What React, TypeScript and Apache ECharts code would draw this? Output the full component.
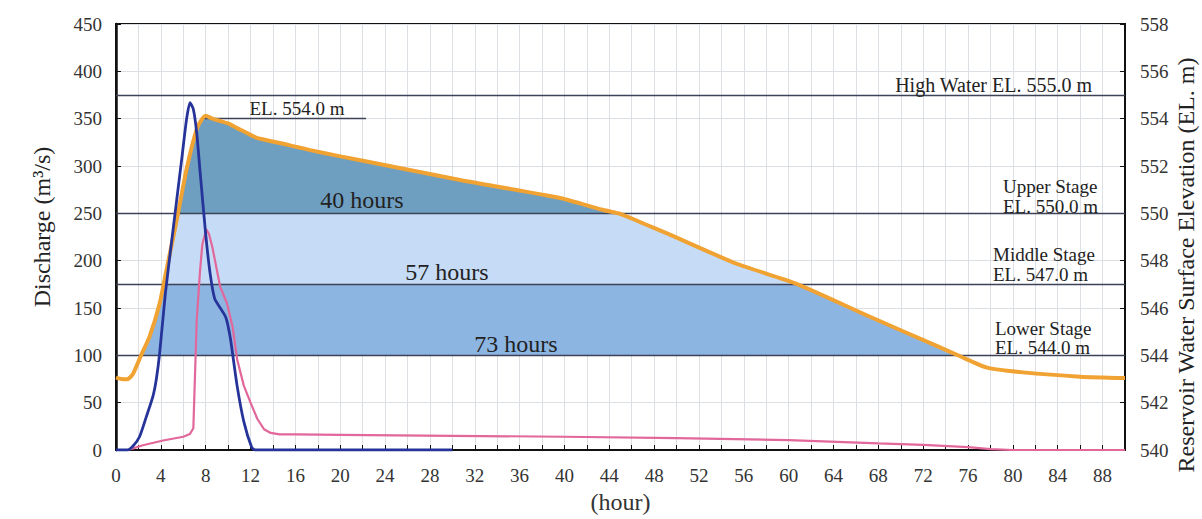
import React, { useEffect, useRef } from "react";
import * as echarts from "echarts";

// ---- data ----
const inflowHours = [0, 1.0, 1.5, 2.1, 2.7, 3.3, 3.6, 3.9, 4.4, 5.0, 5.9, 6.3, 6.6, 6.9, 7.2, 7.5, 8.0, 8.4, 8.8, 9.3, 9.8, 10.2, 10.8, 11.4, 12.1, 12.4, 30];
const inflowValues = [0, 0, 4, 14, 35, 57, 75, 103, 165, 224, 311, 350, 367, 360, 335, 294, 228, 186, 160, 150, 140, 118, 68, 30, 3, 0, 0];

const outflowHours = [1.0, 1.6, 2.4, 4.2, 6.0, 6.6, 6.9, 7.2, 7.5, 7.7, 8.05, 8.3, 8.6, 9.3, 9.9, 10.4, 10.8, 11.4, 12.0, 12.6, 13.2, 13.8, 14.6, 16, 20, 30, 40, 50, 60, 68, 72, 76, 78, 80, 90];
const outflowValues = [0, 2, 5, 10, 14, 17, 23, 137, 190, 217, 233, 228, 214, 172, 155, 130, 96, 68, 50, 33, 22, 18, 16.5, 16.5, 16, 15, 14, 12.5, 10.4, 7, 5.5, 3, 1, 0, 0];

const elevHours = [0, 0.5, 1.0, 1.5, 2.2, 3.0, 3.9, 4.5, 5.4, 6.3, 7.2, 7.7, 8.0, 8.6, 9.3, 10.0, 10.8, 11.5, 12.5, 14.7, 18, 21.8, 30.8, 39.7, 43.3, 45.1, 47.2, 49.3, 55.3, 60.6, 67.2, 73.2, 75.3, 77.7, 80.9, 86, 90];
const elevValues = [543.06, 543.0, 542.99, 543.2, 543.96, 544.8, 546.2, 547.6, 549.68, 551.88, 553.56, 554.0, 554.12, 554.0, 553.9, 553.8, 553.6, 553.44, 553.2, 552.96, 552.6, 552.24, 551.4, 550.64, 550.16, 549.96, 549.54, 549.12, 547.88, 547.04, 545.64, 544.4, 543.96, 543.48, 543.28, 543.1, 543.04];

const stageLevels = [555, 550, 547, 544];
const peakLevel = 554;
const peakLineHours = [7.6, 22.3];

const stageTexts = [
  "High Water EL. 555.0 m",
  "Upper Stage", "EL. 550.0 m",
  "Middle Stage", "EL. 547.0 m",
  "Lower Stage", "EL. 544.0 m",
];
const durationTexts = ["40 hours", "57 hours", "73 hours"];

const zip = (xs: number[], ys: number[]) => xs.map((x, i) => [x, ys[i]]);

const FONT = "'Liberation Serif', 'Times New Roman', serif";

export default function App() {
  const ref = useRef<HTMLDivElement>(null);
  useEffect(() => {
    if (!ref.current) return;
    const chart = echarts.init(ref.current, undefined, { renderer: "svg" });
    const txt = (text: string, x: number, y: number, size: number, align = "center", rotation = 0) => ({
      type: "text",
      x,
      y,
      rotation,
      z: 50,
      silent: true,
      style: { text, fill: "#222", font: `${size}px ${FONT}`, align, verticalAlign: "middle" },
    });
    const elevData = zip(elevHours, elevValues);
    chart.setOption({
      animation: false,
      backgroundColor: "#fff",
      grid: { left: 116, right: 77, top: 24, bottom: 64, show: true, borderColor: "#111", borderWidth: 2, backgroundColor: "#fff" },
      xAxis: {
        type: "value",
        min: 0,
        max: 90,
        interval: 4,
        axisLine: { lineStyle: { color: "#111", width: 2 } },
        axisTick: { inside: true, length: 5, lineStyle: { color: "#111" } },
        minorTick: { show: true, splitNumber: 2, length: 5, lineStyle: { color: "#111" } },
        splitLine: { show: true, lineStyle: { color: "#dcdfe4", width: 1 } },
        minorSplitLine: { show: true, lineStyle: { color: "#dcdfe4", width: 1 } },
        axisLabel: { showMaxLabel: false, fontFamily: FONT, fontSize: 19, color: "#333", margin: 16 },
        name: "(hour)",
        nameLocation: "middle",
        nameGap: 40,
        nameTextStyle: { fontFamily: FONT, fontSize: 24, color: "#333" },
      },
      yAxis: [
        {
          type: "value",
          min: 0,
          max: 450,
          interval: 50,
          axisLine: { show: true, lineStyle: { color: "#111", width: 2.5 } },
          axisTick: { show: true, inside: true, length: 5, lineStyle: { color: "#111" } },
          splitLine: { show: true, lineStyle: { color: "#dcdfe4", width: 1 } },
          axisLabel: { fontFamily: FONT, fontSize: 19, color: "#333", margin: 14 },
        },
        {
          type: "value",
          position: "right",
          min: 540,
          max: 558,
          interval: 2,
          axisLine: { show: true, lineStyle: { color: "#111", width: 2 } },
          axisTick: { show: true, inside: true, length: 5, lineStyle: { color: "#111" } },
          splitLine: { show: false },
          axisLabel: { fontFamily: FONT, fontSize: 19, color: "#333", margin: 15 },
        },
      ],
      visualMap: {
        show: false,
        type: "piecewise",
        seriesIndex: 0,
        dimension: 1,
        pieces: [
          { lt: 544, color: "rgba(255,255,255,0)" },
          { gte: 544, lt: 547, color: "#8db5e2" },
          { gte: 547, lt: 550, color: "#c6dcf6" },
          { gte: 550, color: "#6e9fc1" },
        ],
      },
      series: [
        {
          name: "stage fill",
          type: "line",
          yAxisIndex: 1,
          data: elevData,
          symbol: "none",
          smooth: 0.2,
          silent: true,
          z: 1,
          lineStyle: { width: 0, opacity: 0 },
          areaStyle: { opacity: 1, origin: "start" },
          markLine: {
            silent: true,
            symbol: ["none", "none"],
            label: { show: false },
            lineStyle: { color: "#3c4258", width: 1.3, type: "solid" },
            z: 4,
            data: [
              ...stageLevels.map((v) => ({ yAxis: v })),
              [{ coord: [peakLineHours[0], peakLevel] }, { coord: [peakLineHours[1], peakLevel] }],
            ],
          },
        },
        {
          name: "Reservoir Water Surface Elevation",
          type: "line",
          yAxisIndex: 1,
          data: elevData,
          symbol: "none",
          smooth: 0.2,
          z: 6,
          lineStyle: { color: "#f0a232", width: 4 },
        },
        {
          name: "Outflow",
          type: "line",
          yAxisIndex: 0,
          data: zip(outflowHours, outflowValues),
          symbol: "none",
          z: 7,
          lineStyle: { color: "#e2679a", width: 2.2 },
        },
        {
          name: "Inflow",
          type: "line",
          yAxisIndex: 0,
          data: zip(inflowHours, inflowValues),
          symbol: "none",
          smooth: 0.2,
          z: 8,
          lineStyle: { color: "#26349a", width: 2.8 },
        },
      ],
      graphic: [
        txt("Discharge (m³/s)", 42, 227, 24, "center", Math.PI / 2),
        txt("Reservoir Water Surface Elevation (EL. m)", 1186, 265, 24, "center", Math.PI / 2),
        txt(stageTexts[0], 1092, 85, 20, "right"),
        txt("EL. 554.0 m", 297, 108, 19),
        txt(durationTexts[0], 362, 200, 24),
        txt(durationTexts[1], 447, 272, 24),
        txt(durationTexts[2], 516, 344, 24),
        txt(stageTexts[1], 1003, 186, 19, "left"),
        txt(stageTexts[2], 1003, 206, 19, "left"),
        txt(stageTexts[3], 993, 254, 19, "left"),
        txt(stageTexts[4], 993, 274, 19, "left"),
        txt(stageTexts[5], 995, 328, 19, "left"),
        txt(stageTexts[6], 995, 347, 19, "left"),
      ],
    });
    return () => chart.dispose();
  }, []);
  return <div ref={ref} style={{ position: "fixed", left: 0, top: 0, width: 1202, height: 519 }} />;
}
